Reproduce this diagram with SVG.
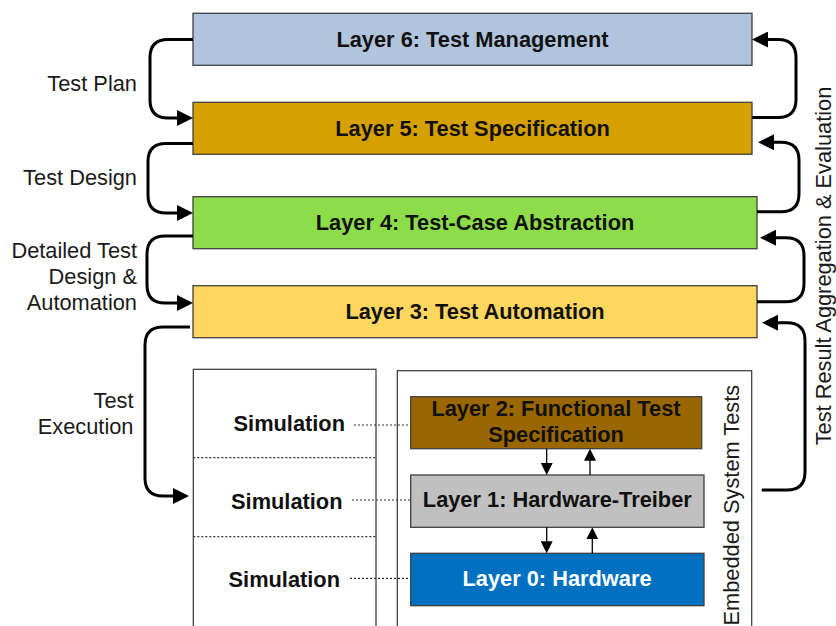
<svg xmlns="http://www.w3.org/2000/svg" width="836" height="626" viewBox="0 0 836 626">
<style>
  .box { stroke: #404040; stroke-width: 1.3; }
  .frame { fill: #ffffff; stroke: #333333; stroke-width: 1.2; }
  .lbl { font-family: "Liberation Sans", Arial, sans-serif; font-size: 21.8px; fill: #1a1a1a; }
  .bold { font-family: "Liberation Sans", Arial, sans-serif; font-size: 21.8px; font-weight: bold; fill: #111111; }
  .conn { fill: none; stroke: #000000; stroke-width: 3; }
  .thin { fill: none; stroke: #000000; stroke-width: 1.3; }
  .dot { fill: none; stroke: #333333; stroke-width: 1.2; stroke-dasharray: 2 2; }
</style>
<defs>
  <marker id="big" markerUnits="userSpaceOnUse" markerWidth="16" markerHeight="16" refX="10" refY="8" orient="auto">
    <path d="M0,0 L16,8 L0,16 z" fill="#000"/>
  </marker>
  <marker id="small" markerUnits="userSpaceOnUse" markerWidth="12" markerHeight="12" refX="8" refY="6" orient="auto">
    <path d="M0,0 L12,6 L0,12 z" fill="#000"/>
  </marker>
</defs>

<rect width="836" height="626" fill="#ffffff"/>

<g id="layer6">
  <rect class="box" x="193" y="13.3" width="559" height="52" fill="#b0c4de"/>
  <text class="bold" x="472.5" y="46.5" text-anchor="middle">Layer 6: Test Management</text>
</g>
<g id="layer5">
  <rect class="box" x="193" y="102.3" width="559" height="52" fill="#d6a000"/>
  <text class="bold" x="472.5" y="135.5" text-anchor="middle">Layer 5: Test Specification</text>
</g>
<g id="layer4">
  <rect class="box" x="193" y="196.7" width="564" height="52" fill="#8ddd4a"/>
  <text class="bold" x="475" y="230" text-anchor="middle">Layer 4: Test-Case Abstraction</text>
</g>
<g id="layer3">
  <rect class="box" x="193" y="285.7" width="564" height="52" fill="#ffd65e"/>
  <text class="bold" x="475" y="318.8" text-anchor="middle">Layer 3: Test Automation</text>
</g>

<g id="simulation-column">
  <rect class="frame" x="193.3" y="369.3" width="182.7" height="280"/>
  <line class="dot" x1="193.3" y1="457.7" x2="376" y2="457.7"/>
  <line class="dot" x1="193.3" y1="536.7" x2="376" y2="536.7"/>
  <text class="bold" x="345" y="430.7" text-anchor="end">Simulation</text>
  <text class="bold" x="342.5" y="509.3" text-anchor="end">Simulation</text>
  <text class="bold" x="340" y="587.3" text-anchor="end">Simulation</text>
</g>

<g id="embedded-system-tests">
  <rect class="frame" x="397.3" y="370.7" width="354.4" height="280"/>
  <text class="lbl" transform="translate(739,625.5) rotate(-90)" text-anchor="start">Embedded System Tests</text>
</g>

<g id="layer2">
  <rect class="box" x="410.7" y="396.7" width="291" height="52" fill="#996600"/>
  <text class="bold" x="556" y="415.5" text-anchor="middle">Layer 2: Functional Test</text>
  <text class="bold" x="556" y="442" text-anchor="middle">Specification</text>
</g>
<g id="layer1">
  <rect class="box" x="410.7" y="475" width="293.3" height="52.3" fill="#c0c0c0"/>
  <text class="bold" x="557.3" y="507" text-anchor="middle">Layer 1: Hardware-Treiber</text>
</g>
<g id="layer0">
  <rect class="box" x="410.7" y="553.3" width="293.3" height="52.4" fill="#0070c0"/>
  <text class="bold" x="557" y="585.5" text-anchor="middle" style="fill:#ffffff">Layer 0: Hardware</text>
</g>

<g id="left-labels">
  <text class="lbl" x="137" y="90.7" text-anchor="end">Test Plan</text>
  <text class="lbl" x="137" y="185" text-anchor="end">Test Design</text>
  <text class="lbl" x="137" y="257.7" text-anchor="end">Detailed Test</text>
  <text class="lbl" x="137" y="284" text-anchor="end">Design &amp;</text>
  <text class="lbl" x="137" y="310.3" text-anchor="end">Automation</text>
  <text class="lbl" x="133.5" y="407.7" text-anchor="end">Test</text>
  <text class="lbl" x="133.5" y="434" text-anchor="end">Execution</text>
</g>
<g id="right-label">
  <text class="lbl" transform="translate(831,266) rotate(-90)" text-anchor="middle">Test Result Aggregation &amp; Evaluation</text>
</g>

<g id="connectors">
  <path class="conn" marker-end="url(#big)" d="M193,39.5 H168 Q150,39.5 150,57.5 V100 Q150,118 168,118 H187"/>
  <path class="conn" marker-end="url(#big)" d="M193,143.5 H166 Q148,143.5 148,161.5 V195 Q148,213 166,213 H187"/>
  <path class="conn" marker-end="url(#big)" d="M193,236 H165 Q147,236 147,254 V285 Q147,303 165,303 H187"/>
  <path class="conn" marker-end="url(#big)" d="M190,327 H163 Q145,327 145,345 V478 Q145,496 163,496 H183"/>

  <path class="conn" marker-end="url(#big)" d="M752,117.5 H778 Q796,117.5 796,99.5 V57.5 Q796,39.5 778,39.5 H758"/>
  <path class="conn" marker-end="url(#big)" d="M757,211.7 H781 Q799,211.7 799,193.7 V160.3 Q799,142.3 781,142.3 H764"/>
  <path class="conn" marker-end="url(#big)" d="M757,301.7 H786 Q804,301.7 804,283.7 V255.7 Q804,237.7 786,237.7 H766"/>
  <path class="conn" marker-end="url(#big)" d="M761.7,490 H787 Q805,490 805,472 V340.7 Q805,322.7 787,322.7 H768"/>

  <line class="thin" marker-end="url(#small)" x1="546.7" y1="448.7" x2="546.7" y2="471"/>
  <line class="thin" marker-end="url(#small)" x1="590" y1="475" x2="590" y2="452.7"/>
  <line class="thin" marker-end="url(#small)" x1="546.7" y1="527.3" x2="546.7" y2="549.3"/>
  <line class="thin" marker-end="url(#small)" x1="592.3" y1="553.3" x2="592.3" y2="531.3"/>

  <line class="dot" x1="354" y1="425" x2="410.7" y2="425"/>
  <line class="dot" x1="352" y1="500" x2="410.7" y2="500"/>
  <line class="dot" x1="350" y1="578.3" x2="410.7" y2="578.3"/>
</g>
</svg>
